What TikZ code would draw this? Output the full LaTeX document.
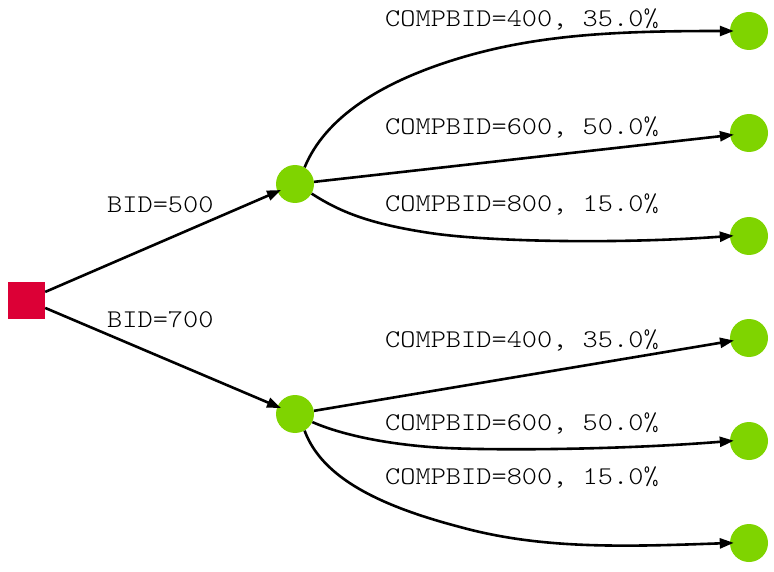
\documentclass[tikz,border=0pt]{standalone}
\usepackage{fontspec}
\setmonofont[FakeStretch=1.135]{Latin Modern Mono Light}
\usetikzlibrary{arrows.meta}
\definecolor{decred}{RGB}{220,0,54}
\definecolor{chgreen}{RGB}{127,212,0}
\begin{document}
\begin{tikzpicture}[x=1pt,y=-1pt,
  decision/.style={fill=decred,draw=none,minimum size=37pt,inner sep=0pt,shape=rectangle},
  chance/.style={fill=chgreen,draw=none,circle,minimum size=38pt,inner sep=0pt},
  lbl/.style={font=\ttfamily\fontsize{25.5}{30}\selectfont,inner sep=0pt,anchor=base west},
  edge/.style={line width=2.6pt,shorten >=-4pt,-{Triangle[length=14pt,width=10pt]}}]
\useasboundingbox (0,0) rectangle (774,572);
\node[decision] (d) at (26.5,300) {};
\node[chance] (c1) at (295,184) {};
\node[chance] (c2) at (295,414) {};
\node[chance] (t1) at (749,31) {};
\node[chance] (t2) at (749,133) {};
\node[chance] (t3) at (749,236) {};
\node[chance] (t4) at (749,338) {};
\node[chance] (t5) at (749,441) {};
\node[chance] (t6) at (749,543) {};
\node[lbl] (l1) at (107,212.5) {BID=500};
\node[lbl] (l2) at (107,327) {BID=700};
\node[lbl] (l3) at (385,27) {COMPBID=400, 35.0\%};
\node[lbl] (l4) at (385,135) {COMPBID=600, 50.0\%};
\node[lbl] (l5) at (385,212) {COMPBID=800, 15.0\%};
\node[lbl] (l6) at (385,347) {COMPBID=400, 35.0\%};
\node[lbl] (l7) at (385,430) {COMPBID=600, 50.0\%};
\node[lbl] (l8) at (385,484) {COMPBID=800, 15.0\%};
\draw[edge] (d) -- (c1);
\draw[edge] (d) -- (c2);
\draw[edge] (c1.60) .. controls (325,118) and (380,82) .. (460,58)
  .. controls (540,34) and (620,31) .. (t1.west);
\draw[edge] (c1) -- (t2);
\draw[edge] (c1.-30) .. controls (340,212) and (370,224) .. (430,233)
  .. controls (490,242) and (620,244) .. (t3.west);
\draw[edge] (c2) -- (t4);
\draw[edge] (c2.-25) .. controls (340,434) and (380,443) .. (430,447)
  .. controls (480,451) and (620,450) .. (t5.west);
\draw[edge] (c2.-60) .. controls (322,478) and (380,506) .. (460,527)
  .. controls (540,549) and (620,547) .. (t6.west);
\end{tikzpicture}
\end{document}
